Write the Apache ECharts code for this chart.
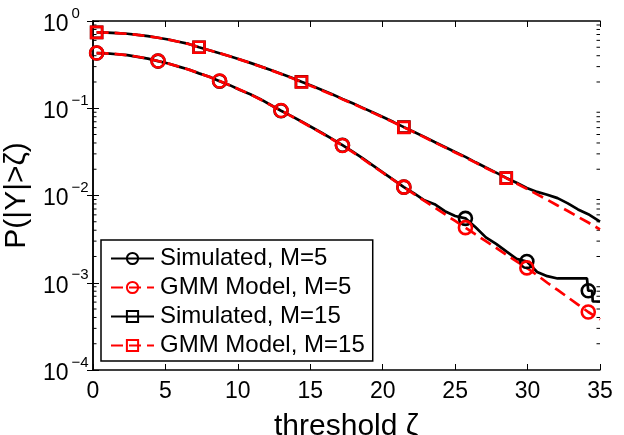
<!DOCTYPE html>
<html>
<head>
<meta charset="utf-8">
<script src="https://cdn.jsdelivr.net/npm/echarts@6/dist/echarts.min.js"></script>
<style>
  html, body { margin: 0; padding: 0; background: #fff; }
  #chart { width: 624px; height: 435px; }
</style>
</head>
<body>
<div id="chart"></div>
<script>
// ---- data ----
const thresholds = [0.25,0.96,1.66,2.37,3.08,3.79,4.49,5.20,5.91,6.61,7.32,8.03,8.74,9.44,10.15,10.86,11.56,12.27,12.98,13.68,14.39,15.10,15.81,16.51,17.22,17.93,18.63,19.34,20.05,20.75,21.46,22.17,22.88,23.58,24.29,25.00,25.71,26.41,27.12,27.83,28.53,29.24,29.95,30.66,31.36,32.07,32.78,33.48,34.19,35.00];

const gmm5 = [0.429,0.425,0.417,0.405,0.389,0.370,0.348,0.325,0.301,0.277,0.252,0.229,0.205,0.183,0.163,0.144,0.126,0.1087,0.0942,0.0813,0.0700,0.0601,0.0515,0.0441,0.0374,0.0314,0.0262,0.0217,0.0180,0.0150,0.01247,0.01038,0.00869,0.00729,0.00610,0.00511,0.00428,0.00358,0.00300,0.00251,0.00210,0.00176,0.00148,0.00122,0.00100,0.000828,0.000681,0.000562,0.000462,0.000380];

const sim5Thresholds = [0.25,0.96,1.66,2.37,3.08,3.79,4.49,5.20,5.91,6.61,7.32,8.03,8.74,9.44,10.15,10.86,11.56,12.27,12.98,13.68,14.39,15.10,15.81,16.51,17.22,17.93,18.63,19.34,20.05,20.75,21.46,22.17,22.88,23.58,24.29,25.00,25.71,26.41,27.12,27.83,28.53,29.24,29.95,30.66,31.36,32.07,32.78,33.48,34.10,34.19,34.45,34.50,35.00];
const sim5 = [0.429,0.426,0.416,0.406,0.388,0.371,0.347,0.326,0.300,0.278,0.251,0.230,0.204,0.184,0.162,0.145,0.127,0.109,0.0935,0.0818,0.0706,0.0606,0.0520,0.0445,0.0377,0.0318,0.0266,0.0220,0.0182,0.0151,0.01247,0.01057,0.00881,0.00794,0.00661,0.00582,0.00547,0.00432,0.00331,0.00279,0.00229,0.00188,0.00175,0.00133,0.00119,0.00112,0.00112,0.00112,0.00112,0.00081,0.00081,0.00061,0.00061];

const gmm15 = [0.741,0.736,0.728,0.713,0.693,0.670,0.643,0.612,0.579,0.545,0.501,0.462,0.428,0.394,0.361,0.330,0.301,0.274,0.247,0.223,0.200,0.179,0.160,0.143,0.127,0.113,0.100,0.0885,0.0780,0.0689,0.0604,0.0530,0.0465,0.0407,0.0356,0.0311,0.0273,0.0238,0.0207,0.0181,0.0158,0.0137,0.0119,0.0103,0.00893,0.00769,0.00664,0.00570,0.00490,0.00409];

const sim15 = [0.741,0.737,0.727,0.714,0.692,0.671,0.642,0.613,0.578,0.546,0.500,0.463,0.427,0.395,0.362,0.331,0.302,0.275,0.249,0.225,0.201,0.181,0.162,0.145,0.128,0.114,0.101,0.0893,0.0788,0.0694,0.0608,0.0535,0.0470,0.0411,0.0360,0.0315,0.0277,0.0240,0.0209,0.0183,0.0159,0.0140,0.0122,0.0110,0.0102,0.00933,0.00813,0.00692,0.00610,0.00501];

const seriesNames = ['Simulated, M=5', 'GMM Model, M=5', 'Simulated, M=15', 'GMM Model, M=15'];
const xTickLabels = ['0','5','10','15','20','25','30','35'];
const minorTickValues = [];
[1e-4,1e-3,1e-2,1e-1].forEach(function(d){ for (let m = 2; m <= 9; m++) minorTickValues.push(+(m*d).toPrecision(3)); });

// marker every 6th grid point for M=5, every 10th for M=15 (MATLAB style)
const markers5 = thresholds.filter(function(_, i){ return i % 6 === 0; });
const markers15 = thresholds.filter(function(_, i){ return i % 10 === 0; });

function build(xs, ys, marks, sym) {
  return xs.map(function(x, i){
    const isMark = marks.indexOf(x) >= 0;
    return { value: [x, ys[i]], symbol: isMark ? sym : 'none' };
  });
}

const chart = echarts.init(document.getElementById('chart'), null, { renderer: 'canvas' });
const FONT = 'Liberation Sans, Arial, Helvetica, sans-serif';
const noFill = 'rgba(255,255,255,0)';

function lineSeries(name, data, color, dashed, sym, size) {
  return {
    name: name,
    type: 'line',
    data: data,
    symbol: sym,
    symbolSize: size,
    showSymbol: true,
    showAllSymbol: true,
    smooth: false,
    lineStyle: { color: color, width: 2.7, type: dashed ? [12, 6] : 'solid' },
    itemStyle: { color: noFill, borderColor: color, borderWidth: 2.6 },
    emphasis: { disabled: true },
    animation: false
  };
}

const supLabel = function(v){
  const e = Math.round(Math.log10(v));
  return '{b|10}{s|' + (e < 0 ? '\u2212' + (-e) : e) + '}';
};

const option = {
  animation: false,
  grid: { left: 93, right: 24, top: 21, bottom: 65, containLabel: false, outerBoundsMode: 'none' },
  legend: {
    orient: 'vertical',
    left: 101, top: 240,
    padding: [4, 8, 1, 9],
    itemGap: 0,
    itemWidth: 43,
    itemHeight: 14,
    backgroundColor: '#fff',
    borderColor: '#000',
    borderWidth: 1.5,
    borderRadius: 0,
    textStyle: { fontFamily: FONT, fontSize: 24, color: '#000', lineHeight: 29, padding: [0,0,0,1] },
    data: seriesNames,
    selectedMode: false
  },
  xAxis: [{
    type: 'value', min: 0, max: 35, interval: 5,
    name: 'threshold \u03B6', nameLocation: 'middle', nameGap: 42,
    nameTextStyle: { fontFamily: FONT, fontSize: 30, color: '#000' },
    axisLine: { lineStyle: { color: '#000', width: 1.5 } },
    axisTick: { inside: true, length: 6, lineStyle: { color: '#000', width: 1 } },
    axisLabel: { fontFamily: FONT, fontSize: 23, color: '#000', margin: 10,
      formatter: function(v){ return xTickLabels[Math.round(v/5)]; } },
    splitLine: { show: false }
  }, {
    type: 'value', min: 0, max: 35, interval: 5, position: 'top',
    axisLine: { lineStyle: { color: '#000', width: 1.5 } },
    axisTick: { inside: true, length: 6, lineStyle: { color: '#000', width: 1 } },
    axisLabel: { show: false }, splitLine: { show: false }
  }],
  yAxis: [{
    type: 'log', logBase: 10, min: 1e-4, max: 1,
    name: 'P(|Y|>\u03B6)', nameLocation: 'middle', nameGap: 54, nameRotate: 90,
    nameTextStyle: { fontFamily: FONT, fontSize: 30, color: '#000' },
    axisLine: { show: true, lineStyle: { color: '#000', width: 1.5 } },
    axisTick: { show: true, inside: true, length: 6, lineStyle: { color: '#000', width: 1 } },
    axisLabel: { margin: 50, align: 'left', formatter: supLabel,
      rich: {
        b: { fontFamily: FONT, fontSize: 23, color: '#000', lineHeight: 30, verticalAlign: 'bottom' },
        s: { fontFamily: FONT, fontSize: 15, color: '#000', lineHeight: 30, verticalAlign: 'top', padding: [0,0,0,3] }
      } },
    splitLine: { show: false }
  }, {
    type: 'log', logBase: 10, min: 1e-4, max: 1, position: 'right',
    axisLine: { show: true, lineStyle: { color: '#000', width: 1.5 } },
    axisTick: { show: true, inside: true, length: 6, lineStyle: { color: '#000', width: 1 } },
    axisLabel: { show: false }, splitLine: { show: false }
  }],
  series: [
    lineSeries(seriesNames[0], build(sim5Thresholds, sim5, markers5, 'circle'), '#000', false, 'circle', 13),
    lineSeries(seriesNames[1], build(thresholds, gmm5, markers5, 'circle'), '#ff0000', true, 'circle', 13),
    lineSeries(seriesNames[2], build(thresholds, sim15, markers15, 'rect'), '#000', false, 'rect', 11),
    lineSeries(seriesNames[3], build(thresholds, gmm15, markers15, 'rect'), '#ff0000', true, 'rect', 11),
    {
      type: 'custom',
      name: 'minorTicks',
      silent: true,
      clip: false,
      data: minorTickValues.map(function(v){ return [0, v]; }),
      renderItem: function(params, api){
        const left = api.coord([0, api.value(1)]);
        const right = api.coord([35, api.value(1)]);
        return {
          type: 'group',
          children: [
            { type: 'line', shape: { x1: left[0], y1: left[1], x2: left[0] + 3.5, y2: left[1] }, style: { stroke: '#000', lineWidth: 1 } },
            { type: 'line', shape: { x1: right[0] - 3.5, y1: right[1], x2: right[0], y2: right[1] }, style: { stroke: '#000', lineWidth: 1 } }
          ]
        };
      },
      animation: false
    }
  ]
};
chart.setOption(option);
</script>
</body>
</html>
